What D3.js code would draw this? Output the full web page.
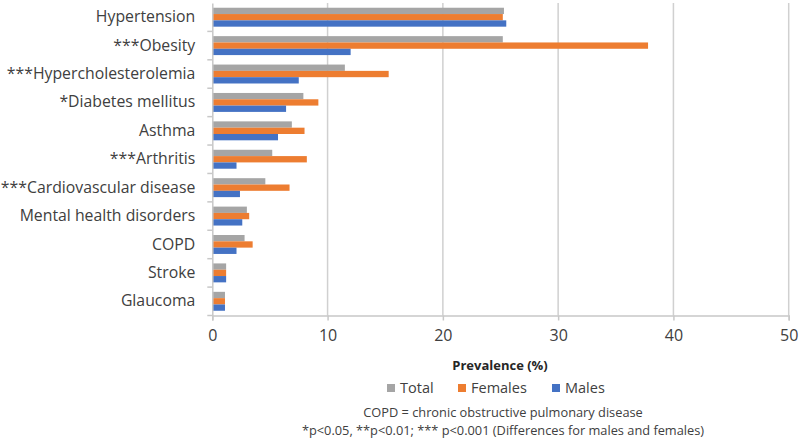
<!DOCTYPE html>
<html>
<head>
<meta charset="utf-8">
<script src="https://cdn.jsdelivr.net/npm/d3@7"></script>
<style>
  body { margin: 0; background: #fff; }
  text { font-family: "Open Sans", sans-serif; fill: #404040; }
</style>
</head>
<body>
<div class="chart"></div>
<script>
// categories top to bottom
var categories = ["Hypertension", "***Obesity", "***Hypercholesterolemia", "*Diabetes mellitus",
  "Asthma", "***Arthritis", "***Cardiovascular disease", "Mental health disorders",
  "COPD", "Stroke", "Glaucoma"];

// prevalence values (%)
var total   = [25.3, 25.2, 11.5, 7.9, 6.9, 5.2, 4.6, 3.0, 2.8, 1.2, 1.1];
var females = [25.2, 37.8, 15.3, 9.2, 8.0, 8.2, 6.7, 3.2, 3.5, 1.2, 1.1];
var males   = [25.5, 12.0, 7.5, 6.4, 5.7, 2.1, 2.4, 2.6, 2.1, 1.2, 1.1];

var seriesNames = ["Total", "Females", "Males"];
var colors = ["#A5A5A5", "#ED7D31", "#4472C4"];
var xTicks = [0, 10, 20, 30, 40, 50];

var width = 800, height = 441;
// plot box (window.top is taken, so use other names)
var plotLeft = 212.3, plotRight = 788.7, plotTop = 3, plotBottom = 315.5;

var svg = d3.select(".chart").append("svg")
  .attr("width", width)
  .attr("height", height);

var x = d3.scaleLinear().domain([0, 50]).range([plotLeft, plotRight]);
var y = d3.scaleBand().domain(categories).range([plotTop, plotBottom]);
// 3 bars plus a gap of 1.5 bars (Excel 150% gap width)
var barH = y.bandwidth() / 4.5;
var inner = d3.scaleBand().domain(seriesNames)
  .range([barH * 0.75, barH * 3.75]);

// vertical gridlines
svg.append("g").selectAll("line")
  .data(xTicks.slice(1))
  .enter().append("line")
    .attr("x1", d => x(d)).attr("x2", d => x(d))
    .attr("y1", plotTop).attr("y2", plotBottom)
    .style("stroke", "#d0d0d0")
    .style("stroke-width", 1.5);

// bars
var rows = categories.map(function(c, i) {
  return { cat: c, vals: [total[i], females[i], males[i]] };
});

var groups = svg.append("g").selectAll("g")
  .data(rows)
  .enter().append("g")
    .attr("transform", d => "translate(0," + y(d.cat) + ")");

groups.selectAll("rect")
  .data(d => d.vals.map((v, j) => ({ name: seriesNames[j], v: v, c: colors[j] })))
  .enter().append("rect")
    .attr("x", x(0))
    .attr("y", d => inner(d.name))
    .attr("width", d => x(d.v) - x(0))
    .attr("height", inner.bandwidth())
    .style("fill", d => d.c);

// x axis
var xAxis = svg.append("g")
  .attr("transform", "translate(0," + plotBottom + ")")
  .call(d3.axisBottom(x).tickValues(xTicks).tickSize(5).tickPadding(9));
xAxis.select(".domain").style("stroke", "#c8c8c8").style("stroke-width", 1.5);
xAxis.selectAll(".tick line").style("stroke", "#c8c8c8").style("stroke-width", 1.5);
xAxis.selectAll("text").style("font-size", "16px").style("fill", "#404040")
  .style("font-family", "Open Sans, sans-serif");

// y axis with ticks between categories
var yAxis = svg.append("g")
  .attr("transform", "translate(" + plotLeft + ",0)")
  .call(d3.axisLeft(y).tickSize(0).tickPadding(17));
yAxis.select(".domain").style("stroke", "#c8c8c8").style("stroke-width", 1.5);
yAxis.selectAll("text").style("font-size", "15.8px").style("fill", "#404040")
  .style("font-family", "Open Sans, sans-serif");
yAxis.selectAll(".sep")
  .data(categories)
  .enter().append("line")
    .attr("class", "sep")
    .attr("x1", -5).attr("x2", 0)
    .attr("y1", d => y(d) + y.bandwidth()).attr("y2", d => y(d) + y.bandwidth())
    .style("stroke", "#c8c8c8").style("stroke-width", 1.5);

// axis title
svg.append("text")
  .attr("x", 500).attr("y", 370)
  .attr("text-anchor", "middle")
  .style("font-size", "13px")
  .style("font-weight", "bold")
  .style("fill", "#262626")
  .text("Prevalence (%)");

// legend
var legendX = [387, 458, 552];
var legend = svg.append("g").selectAll("g")
  .data(seriesNames)
  .enter().append("g")
    .attr("transform", (d, i) => "translate(" + legendX[i] + ",388)");
legend.append("rect")
  .attr("x", 0).attr("y", -4).attr("width", 8).attr("height", 8)
  .style("fill", (d, i) => colors[i]);
legend.append("text")
  .attr("x", 13).attr("y", 0).attr("dy", "0.35em")
  .style("font-size", "14.5px")
  .text(d => d);

// footnotes
var notes = ["COPD = chronic obstructive pulmonary disease",
  "*p<0.05, **p<0.01; *** p<0.001 (Differences for males and females)"];
svg.append("g").selectAll("text")
  .data(notes)
  .enter().append("text")
    .attr("x", 503)
    .attr("y", (d, i) => 413 + i * 18)
    .attr("dy", "0.35em")
    .attr("text-anchor", "middle")
    .style("font-size", "12.8px")
    .text(d => d);
</script>
</body>
</html>
